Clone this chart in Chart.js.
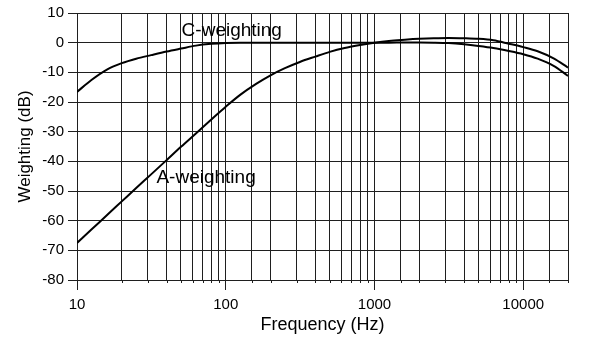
<!DOCTYPE html>
<html>
<head>
<meta charset="utf-8">
<script src="https://cdn.jsdelivr.net/npm/chart.js@4"></script>
<style>
  html, body { margin: 0; padding: 0; background: #fff; }
  #wrap { width: 600px; height: 343px; }
</style>
</head>
<body>
<div id="wrap"><canvas id="weightChart" width="600" height="343"></canvas></div>
<script>
// Frequencies (Hz) at which both curves are read
const freqs = [10, 12.5, 16, 20, 25, 31.5, 40, 50, 63, 80, 100, 125, 160, 200, 250, 315,
  400, 500, 630, 800, 1000, 1250, 1600, 2000, 2500, 3150, 4000, 5000, 6300, 8000,
  10000, 12500, 16000, 20000];

// Weighting in dB
const aWeight = [-67.5, -63.0, -58.0, -53.5, -49.0, -44.4, -39.6, -35.1, -30.6, -25.9,
  -21.6, -17.6, -13.9, -11.0, -8.6, -6.5, -4.7, -3.1, -1.8, -0.8,
  0, 0.6, 1.0, 1.3, 1.5, 1.6, 1.5, 1.3, 0.8, -0.35,
  -1.5, -2.9, -5.3, -8.4];
const cWeight = [-16.6, -12.6, -9.0, -6.9, -5.4, -4.2, -3.0, -2.0, -1.0, -0.4,
  -0.1, 0, 0, 0, 0, 0, 0, 0, 0, 0,
  0, 0, 0.05, 0.05, 0, -0.15, -0.55, -1.1, -1.8, -2.8,
  -3.9, -5.4, -7.8, -11.2];

const yTicks = [-80, -70, -60, -50, -40, -30, -20, -10, 0, 10];

// Curve names and where they are written (Hz, dB of the text's left/middle)
const curveNames = ['C-weighting', 'A-weighting'];
const nameSpots = [[50.5, 4], [34.2, -45.5]];

const toPoints = vals => freqs.map((f, i) => ({ x: f, y: vals[i] }));

const gridColor = '#1f1f1f';
const FONT = '"Liberation Sans", Arial, Helvetica, sans-serif';

const isDecade = v => {
  const p = Math.log10(v);
  return Math.abs(p - Math.round(p)) < 1e-9;
};

// Curve names inside the plot, plus short minor ticks under the x axis
const extras = {
  id: 'extras',
  afterDatasetsDraw(chart) {
    const { ctx, scales: { x, y } } = chart;
    ctx.save();
    ctx.fillStyle = '#000';
    ctx.font = '19px ' + FONT;
    ctx.textAlign = 'left';
    ctx.textBaseline = 'middle';
    curveNames.forEach((name, i) => {
      const [f, db] = nameSpots[i];
      ctx.fillText(name, x.getPixelForValue(f), y.getPixelForValue(db));
    });

    ctx.strokeStyle = gridColor;
    ctx.lineWidth = 1;
    ctx.beginPath();
    x.ticks.forEach(t => {
      if (isDecade(t.value)) return;
      const px = Math.round(x.getPixelForValue(t.value)) + 0.5;
      ctx.moveTo(px, x.top);
      ctx.lineTo(px, x.top + 3);
    });
    ctx.stroke();
    ctx.restore();
  }
};

new Chart(document.getElementById('weightChart'), {
  type: 'line',
  data: {
    datasets: [
      {
        label: 'A-weighting',
        data: toPoints(aWeight),
        borderColor: '#000',
        borderWidth: 2,
        pointRadius: 0,
        cubicInterpolationMode: 'monotone',
        fill: false
      },
      {
        label: 'C-weighting',
        data: toPoints(cWeight),
        borderColor: '#000',
        borderWidth: 2,
        pointRadius: 0,
        cubicInterpolationMode: 'monotone',
        fill: false
      }
    ]
  },
  options: {
    responsive: false,
    animation: false,
    layout: { padding: { left: 5, right: 32, top: 10, bottom: 0 } },
    plugins: {
      legend: { display: false },
      tooltip: { enabled: false }
    },
    scales: {
      x: {
        type: 'logarithmic',
        min: 10,
        max: 20000,
        afterFit(scale) { scale.height = 63; },
        grid: {
          color: gridColor,
          lineWidth: 1,
          tickLength: 10,
          tickColor: ctx => (ctx.tick && isDecade(ctx.tick.value) ? gridColor : 'rgba(0,0,0,0)')
        },
        border: { color: gridColor },
        ticks: {
          autoSkip: false,
          maxRotation: 0,
          padding: 6,
          color: '#000',
          font: { family: FONT, size: 15 },
          callback: v => (isDecade(v) ? String(v) : '')
        },
        title: {
          display: true,
          text: 'Frequency (Hz)',
          color: '#000',
          font: { family: FONT, size: 18 },
          padding: { top: 0, bottom: 7 }
        }
      },
      y: {
        type: 'linear',
        min: -80,
        max: 10,
        afterFit(scale) { scale.width = 72; },
        afterBuildTicks(scale) { scale.ticks = yTicks.map(v => ({ value: v })); },
        grid: { color: gridColor, lineWidth: 1, tickLength: 9 },
        border: { color: gridColor },
        ticks: {
          padding: 4,
          color: '#000',
          font: { family: FONT, size: 15 }
        },
        title: {
          display: true,
          text: 'Weighting (dB)',
          color: '#000',
          font: { family: FONT, size: 17 },
          padding: { top: 10, bottom: 0 }
        }
      }
    }
  },
  plugins: [extras]
});
</script>
</body>
</html>
